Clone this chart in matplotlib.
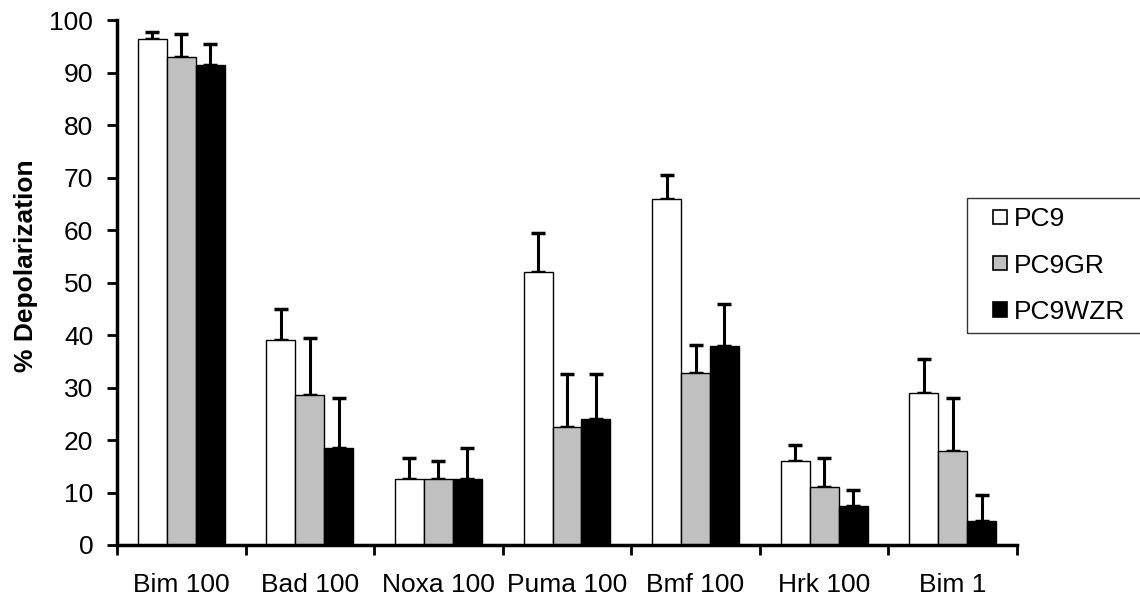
import numpy as np
import matplotlib.pyplot as plt
from matplotlib.patches import Rectangle
from matplotlib.legend_handler import HandlerPatch

plt.rcParams['font.family'] = ['Liberation Sans', 'DejaVu Sans']

categories = ['Bim 100', 'Bad 100', 'Noxa 100', 'Puma 100', 'Bmf 100', 'Hrk 100', 'Bim 1']
series = ['PC9', 'PC9GR', 'PC9WZR']
pc9 = [96.5, 39, 12.5, 52, 66, 16, 29]
pc9_err = [1.2, 6, 4, 7.5, 4.5, 3, 6.5]
pc9gr = [93, 28.5, 12.5, 22.5, 32.7, 11, 18]
pc9gr_err = [4.3, 11, 3.5, 10, 5.5, 5.5, 10]
pc9wzr = [91.5, 18.5, 12.5, 24, 38, 7.5, 4.5]
pc9wzr_err = [4, 9.5, 6, 8.5, 8, 3, 5]

colors = ['white', '#c0c0c0', 'black']


def square_handle(legend, orig_handle, xdescent, ydescent, width, height, fontsize):
    # small square pushed to the right end of the handle box
    sq = 0.55 * fontsize
    return Rectangle((-xdescent + width - sq, -ydescent + (height - sq) / 2), sq, sq)


fig = plt.figure(figsize=(11.4, 5.96), dpi=100)
ax = fig.add_axes([0.1026, 0.0856, 0.7895, 0.8804])

x = np.arange(len(categories))
w = 0.225
for i, (vals, errs) in enumerate([(pc9, pc9_err), (pc9gr, pc9gr_err), (pc9wzr, pc9wzr_err)]):
    pos = x + (i - 1) * w
    ax.bar(pos, vals, w, color=colors[i], edgecolor='black', linewidth=1, zorder=2)
    ax.errorbar(pos, vals, yerr=[np.zeros(len(errs)), errs], fmt='none', ecolor='black',
                elinewidth=2.2, capsize=5, capthick=2.5, zorder=1)

ax.set_xlim(-0.5, len(categories) - 0.5)
ax.set_ylim(0, 100)
ax.set_yticks(range(0, 101, 10))
ax.set_xticks(np.arange(-0.5, len(categories), 1.0))
ax.set_xticklabels([])
ax.set_xticks(x, minor=True)
ax.set_xticklabels(categories, minor=True, fontsize=19)
ax.tick_params(axis='x', which='minor', length=0, pad=20)
ax.tick_params(axis='x', which='major', length=7, width=2, direction='out')
ax.tick_params(axis='y', length=7, width=2, labelsize=19, pad=10)
ax.set_ylabel('% Depolarization', fontsize=19, fontweight='bold')
ax.yaxis.set_label_coords(-0.088, 0.533)

for s in ['top', 'right']:
    ax.spines[s].set_visible(False)
for s in ['left', 'bottom']:
    ax.spines[s].set_linewidth(2.5)

# legend box runs off the right edge of the figure, as in the original
handles = [Rectangle((0, 0), 1, 1, facecolor=c, edgecolor='black', linewidth=1.2) for c in colors]
leg = fig.legend(handles, series, loc='upper left', bbox_to_anchor=(0.848, 0.0, 0.17, 0.668),
                 mode='expand', fontsize=19,
                 frameon=True, fancybox=False, edgecolor='black', handlelength=1.18,
                 handleheight=0.55, handletextpad=0.27, labelspacing=0.85, borderpad=0.35,
                 borderaxespad=0, handler_map={Rectangle: HandlerPatch(patch_func=square_handle)})
leg.get_frame().set_linewidth(1)

fig.savefig('out.png', dpi=100)
